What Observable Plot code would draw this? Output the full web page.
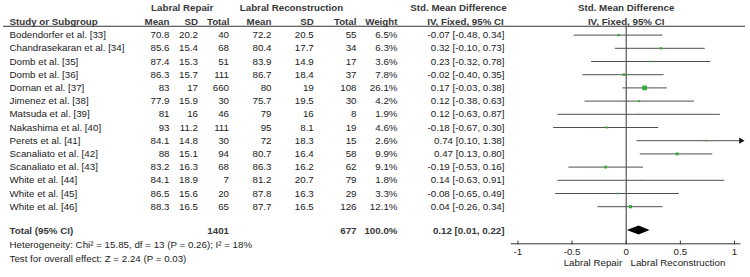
<!DOCTYPE html>
<html>
<head>
<meta charset="utf-8">
<script src="https://cdn.jsdelivr.net/npm/d3@7"></script>
<script src="https://cdn.jsdelivr.net/npm/@observablehq/plot@0.6"></script>
<style>
  html, body { margin: 0; padding: 0; background: #fff; }
</style>
</head>
<body>
<div id="chart"></div>
<script>
// ---- Study data: labral repair vs. labral reconstruction ----
const studies = [
  "Bodendorfer et al. [33]", "Chandrasekaran et al. [34]", "Domb et al. [35]", "Domb et al. [36]",
  "Dornan et al. [37]", "Jimenez et al. [38]", "Matsuda et al. [39]", "Nakashima et al. [40]",
  "Perets et al. [41]", "Scanaliato et al. [42]", "Scanaliato et al. [43]", "White et al. [44]",
  "White et al. [45]", "White et al. [46]"
];
const repairMean = [70.8, 85.6, 87.4, 86.3, 83, 77.9, 81, 93, 84.1, 88, 83.2, 84.1, 86.5, 88.3];
const repairSD   = [20.2, 15.4, 15.3, 15.7, 17, 15.9, 16, 11.2, 14.8, 15.1, 16.3, 18.9, 15.6, 16.5];
const repairN    = [40, 68, 51, 111, 660, 30, 46, 111, 30, 94, 68, 7, 20, 65];
const reconMean  = [72.2, 80.4, 83.9, 86.7, 80, 75.7, 79, 95, 72, 80.7, 86.3, 81.2, 87.8, 87.7];
const reconSD    = [20.5, 17.7, 14.9, 18.4, 19, 19.5, 16, 8.1, 18.3, 16.4, 16.2, 20.7, 16.3, 16.5];
const reconN     = [55, 34, 17, 37, 108, 30, 8, 19, 15, 58, 62, 79, 29, 126];
const weight     = [6.5, 6.3, 3.6, 7.8, 26.1, 4.2, 1.9, 4.6, 2.6, 9.9, 9.1, 1.8, 3.3, 12.1];
const smd        = [-0.07, 0.32, 0.23, -0.02, 0.17, 0.12, 0.12, -0.18, 0.74, 0.47, -0.19, 0.14, -0.08, 0.04];
const ciLow      = [-0.48, -0.10, -0.32, -0.40, -0.03, -0.38, -0.63, -0.67, 0.10, 0.13, -0.53, -0.63, -0.65, -0.26];
const ciHigh     = [0.34, 0.73, 0.78, 0.35, 0.38, 0.63, 0.87, 0.30, 1.38, 0.80, 0.16, 0.91, 0.49, 0.34];

// Pooled estimate
const totalRepairN = 1401;
const totalReconN = 677;
const totalWeight = 100.0;
const totalSMD = 0.12, totalLow = 0.01, totalHigh = 0.22;
const heterogeneityText = "Heterogeneity: Chi\u00B2 = 15.85, df = 13 (P = 0.26); I\u00B2 = 18%";
const overallText = "Test for overall effect: Z = 2.24 (P = 0.03)";

// Header and axis labels
const groupHeaders = ["Labral Repair", "Labral Reconstruction", "Std. Mean Difference", "Std. Mean Difference"];
const columnHeaders = ["Study or Subgroup", "Mean", "SD", "Total", "Mean", "SD", "Total", "Weight", "IV, Fixed, 95% CI", "IV, Fixed, 95% CI"];
const xTicks = [-1, -0.5, 0, 0.5, 1];
const favoursLabels = ["Labral Repair", "Labral Reconstruction"];

// ---- Table rows ----
const rows = studies.map((study, i) => ({
  row: i + 1, study,
  repairMean: repairMean[i], repairSD: repairSD[i], repairN: repairN[i],
  reconMean: reconMean[i], reconSD: reconSD[i], reconN: reconN[i],
  weight: weight[i], smd: smd[i], lo: ciLow[i], hi: ciHigh[i]
}));

const f2 = v => v.toFixed(2);
const ciText = (m, lo, hi) => `${f2(m)} [${f2(lo)}, ${f2(hi)}]`;

// ---- Layout ----
const width = 750, height = 277;
const mL = 3, mR = 5, mT = 25.7, mB = 33.7;
const fontSize = 9.75;
const ink = "#222", headInk = "#383838", lineInk = "#333";
// text column anchors (px from left edge)
const colX = {study: 9, repairMean: 169, repairSD: 197.5, repairN: 228.5,
              reconMean: 271, reconSD: 313.3, reconN: 356, weight: 397, ci: 504};
// vertical positions in row units (study rows are 1..14)
const headRow1 = -1.07, headRow2 = 0, totalRow = 15.8, hetRow = 16.89, testRow = 17.93, favRow = 18.22;
const axisRow = 1 + (height - mB - 34.6) / 13.2;
const xLimit = 1.06;       // visible extent of the effect axis
const diamondHalf = 0.34;  // diamond half height (rows)

const colText = (data, field, fmt, opts = {}) => Plot.text(data, {
  y: "row", text: d => fmt(d[field]), frameAnchor: "left", dx: colX[field] - mL,
  textAnchor: field === "study" ? "start" : "end", fill: ink, ...opts
});

const headerPos = [
  {row: headRow1, text: groupHeaders[0], x: 181.7, anchor: "middle"},
  {row: headRow1, text: groupHeaders[1], x: 291, anchor: "middle"},
  {row: headRow1, text: groupHeaders[2], x: 458, anchor: "middle"},
  {row: headRow2, text: columnHeaders[0], x: colX.study, anchor: "start"},
  {row: headRow2, text: columnHeaders[1], x: colX.repairMean, anchor: "end"},
  {row: headRow2, text: columnHeaders[2], x: colX.repairSD, anchor: "end"},
  {row: headRow2, text: columnHeaders[3], x: colX.repairN + 0.5, anchor: "end"},
  {row: headRow2, text: columnHeaders[4], x: colX.reconMean, anchor: "end"},
  {row: headRow2, text: columnHeaders[5], x: colX.reconSD, anchor: "end"},
  {row: headRow2, text: columnHeaders[6], x: colX.reconN, anchor: "end"},
  {row: headRow2, text: columnHeaders[7], x: colX.weight, anchor: "end"},
  {row: headRow2, text: columnHeaders[8], x: 465, anchor: "middle"}
];

const totalRowData = [{
  row: totalRow, study: "Total (95% CI)", repairN: totalRepairN, reconN: totalReconN,
  weight: totalWeight, smd: totalSMD, lo: totalLow, hi: totalHigh
}];

const diamond = [
  {x: totalLow, y1: totalRow, y2: totalRow},
  {x: totalSMD, y1: totalRow - diamondHalf, y2: totalRow + diamondHalf},
  {x: totalHigh, y1: totalRow, y2: totalRow}
];

const chart = Plot.plot({
  width, height,
  marginLeft: mL, marginRight: mR, marginTop: mT, marginBottom: mB,
  style: {fontFamily: "'Liberation Sans', Arial, sans-serif", fontSize: `${fontSize}px`, background: "#fff", color: ink},
  x: {domain: [-1, 1], range: [517.4, 734], label: null},
  y: {domain: [1, 14], range: [34.6, 206.2], axis: null},
  r: {domain: [0, d3.max(weight)], range: [0, 2.65]},
  marks: [
    // header rule and zero line
    Plot.ruleY([0.33], {stroke: lineInk, strokeWidth: 1}),
    Plot.ruleX([0], {stroke: lineInk, strokeWidth: 1}),
    // header texts
    ...headerPos.map(d =>
      Plot.text([d], {y: "row", text: "text", frameAnchor: "left", dx: d.x - mL, textAnchor: d.anchor, fontWeight: "bold", fill: headInk})),
    Plot.text([{row: headRow1, text: groupHeaders[3]}, {row: headRow2, text: columnHeaders[9]}],
      {x: () => 0, y: "row", text: "text", fontWeight: "bold", fill: headInk}),

    // study table
    colText(rows, "study", String),
    colText(rows, "repairMean", String),
    colText(rows, "repairSD", String),
    colText(rows, "repairN", String),
    colText(rows, "reconMean", String),
    colText(rows, "reconSD", String),
    colText(rows, "reconN", String),
    colText(rows, "weight", v => v.toFixed(1) + "%"),
    Plot.text(rows, {y: "row", text: d => ciText(d.smd, d.lo, d.hi), frameAnchor: "left", dx: colX.ci - mL, textAnchor: "end", fill: ink}),

    // pooled row
    colText(totalRowData, "study", String, {fontWeight: "bold", fill: headInk}),
    colText(totalRowData, "repairN", String, {fontWeight: "bold", fill: headInk}),
    colText(totalRowData, "reconN", String, {fontWeight: "bold", fill: headInk}),
    colText(totalRowData, "weight", v => v.toFixed(1) + "%", {fontWeight: "bold", fill: headInk}),
    Plot.text(totalRowData, {y: "row", text: d => ciText(d.smd, d.lo, d.hi), frameAnchor: "left", dx: colX.ci - mL, textAnchor: "end", fontWeight: "bold", fill: headInk}),
    Plot.text([{row: hetRow, t: heterogeneityText}, {row: testRow, t: overallText}],
      {y: "row", text: "t", frameAnchor: "left", dx: colX.study - mL, textAnchor: "start", fill: ink}),

    // confidence intervals, clipped at the axis extent
    Plot.ruleY(rows, {y: "row", x1: "lo", x2: d => Math.min(d.hi, xLimit), stroke: "#505050", strokeWidth: 1}),
    Plot.dot(rows.filter(d => d.hi > xLimit), {x: () => xLimit, y: "row", symbol: "triangle", rotate: 90, r: 2.3, fill: "#111", stroke: null}),
    // study estimates, area proportional to weight
    Plot.dot(rows, {x: "smd", y: "row", r: "weight", symbol: "square", fill: "#36a836", stroke: null}),
    // pooled diamond
    Plot.areaY(diamond, {x: "x", y1: "y1", y2: "y2", fill: "#000"}),

    // effect axis
    Plot.ruleY([axisRow], {x1: -xLimit, x2: xLimit, stroke: lineInk, strokeWidth: 1}),
    Plot.ruleX(xTicks, {x: d => d, y1: axisRow - 0.2, y2: axisRow + 0.08, stroke: lineInk, strokeWidth: 1}),
    Plot.axisX(xTicks, {tickSize: 0, tickPadding: 4, tickFormat: d => String(d), label: null, fill: ink}),
    Plot.text([favoursLabels[0]], {x: () => 0, y: () => favRow, text: d => d, dx: -4, textAnchor: "end", fill: ink}),
    Plot.text([favoursLabels[1]], {x: () => 0, y: () => favRow, text: d => d, dx: 4.3, textAnchor: "start", fill: ink})
  ]
});

document.getElementById("chart").appendChild(chart);
</script>
</body>
</html>
